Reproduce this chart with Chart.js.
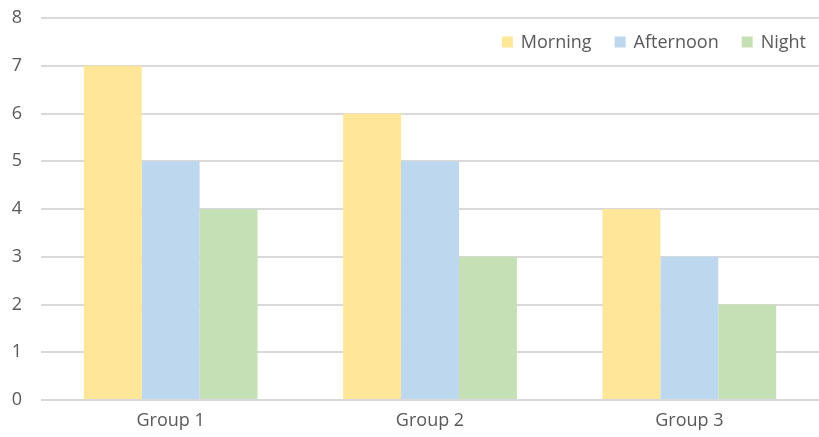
<!DOCTYPE html>
<html>
<head>
<meta charset="utf-8">
<script src="https://cdn.jsdelivr.net/npm/chart.js@4/dist/chart.umd.min.js"></script>
<style>
    html, body { margin: 0; padding: 0; background: #ffffff; }
    #wrap { width: 819px; height: 437px; }
</style>
</head>
<body>
<div id="wrap"><canvas id="shift-chart" width="819" height="437"></canvas></div>
<script>
// Chart data
const groups = ['Group 1', 'Group 2', 'Group 3'];
const morning = [7, 6, 4];
const afternoon = [5, 5, 3];
const night = [4, 3, 2];
const yTicks = [0, 1, 2, 3, 4, 5, 6, 7, 8];

const textColor = '#595959';
const fontFamily = "'Open Sans', 'Noto Sans', sans-serif";
const fontSize = 18;

// Legend drawn inside the plot, top right, in one row
const insideLegend = {
    id: 'insideLegend',
    afterDraw(chart) {
        const ctx = chart.ctx;
        const area = chart.chartArea;
        const box = 11;
        const gap = 8;
        const spacing = 23;
        const centerY = area.top + 24;
        ctx.save();
        ctx.font = fontSize + 'px ' + fontFamily;
        ctx.textBaseline = 'middle';
        ctx.textAlign = 'left';
        let x = area.right - 13;
        const items = chart.data.datasets.slice().reverse();
        items.forEach(ds => {
            const w = ctx.measureText(ds.label).width;
            x -= w;
            ctx.fillStyle = textColor;
            ctx.fillText(ds.label, x, centerY + 1);
            x -= gap + box;
            ctx.fillStyle = ds.backgroundColor;
            ctx.fillRect(x, centerY - box / 2, box, box);
            x -= spacing;
        });
        ctx.restore();
    }
};

const canvas = document.getElementById('shift-chart');

window.shiftChart = new Chart(canvas, {
    type: 'bar',
    data: {
        labels: groups,
        datasets: [
            { label: 'Morning', data: morning, backgroundColor: '#FFE699' },
            { label: 'Afternoon', data: afternoon, backgroundColor: '#BDD7EE' },
            { label: 'Night', data: night, backgroundColor: '#C5E0B4' }
        ]
    },
    options: {
        responsive: false,
        animation: false,
        layout: {
            padding: { top: 18, right: 0, bottom: 4, left: 12 }
        },
        datasets: {
            bar: {
                categoryPercentage: 0.67,
                barPercentage: 1.0,
                borderWidth: 0
            }
        },
        scales: {
            x: {
                grid: { display: false, drawTicks: false },
                border: { display: false },
                afterFit: function(axis) {
                    axis.height = 33;
                    axis.paddingLeft = 0;
                    axis.paddingRight = 0;
                },
                ticks: {
                    color: textColor,
                    padding: 10,
                    font: { family: fontFamily, size: fontSize }
                }
            },
            y: {
                min: 0,
                max: 8,
                afterBuildTicks: function(axis) {
                    axis.ticks = yTicks.map(v => ({ value: v }));
                },
                afterFit: function(axis) {
                    axis.width = 29;
                    axis.paddingTop = 0;
                    axis.paddingBottom = 0;
                },
                grid: { color: '#D9D9D9', lineWidth: 2, drawTicks: false },
                border: { display: false },
                ticks: {
                    color: textColor,
                    padding: 19,
                    font: { family: fontFamily, size: fontSize }
                }
            }
        },
        plugins: {
            legend: { display: false },
            tooltip: { enabled: false }
        }
    },
    plugins: [insideLegend]
});
</script>
</body>
</html>
